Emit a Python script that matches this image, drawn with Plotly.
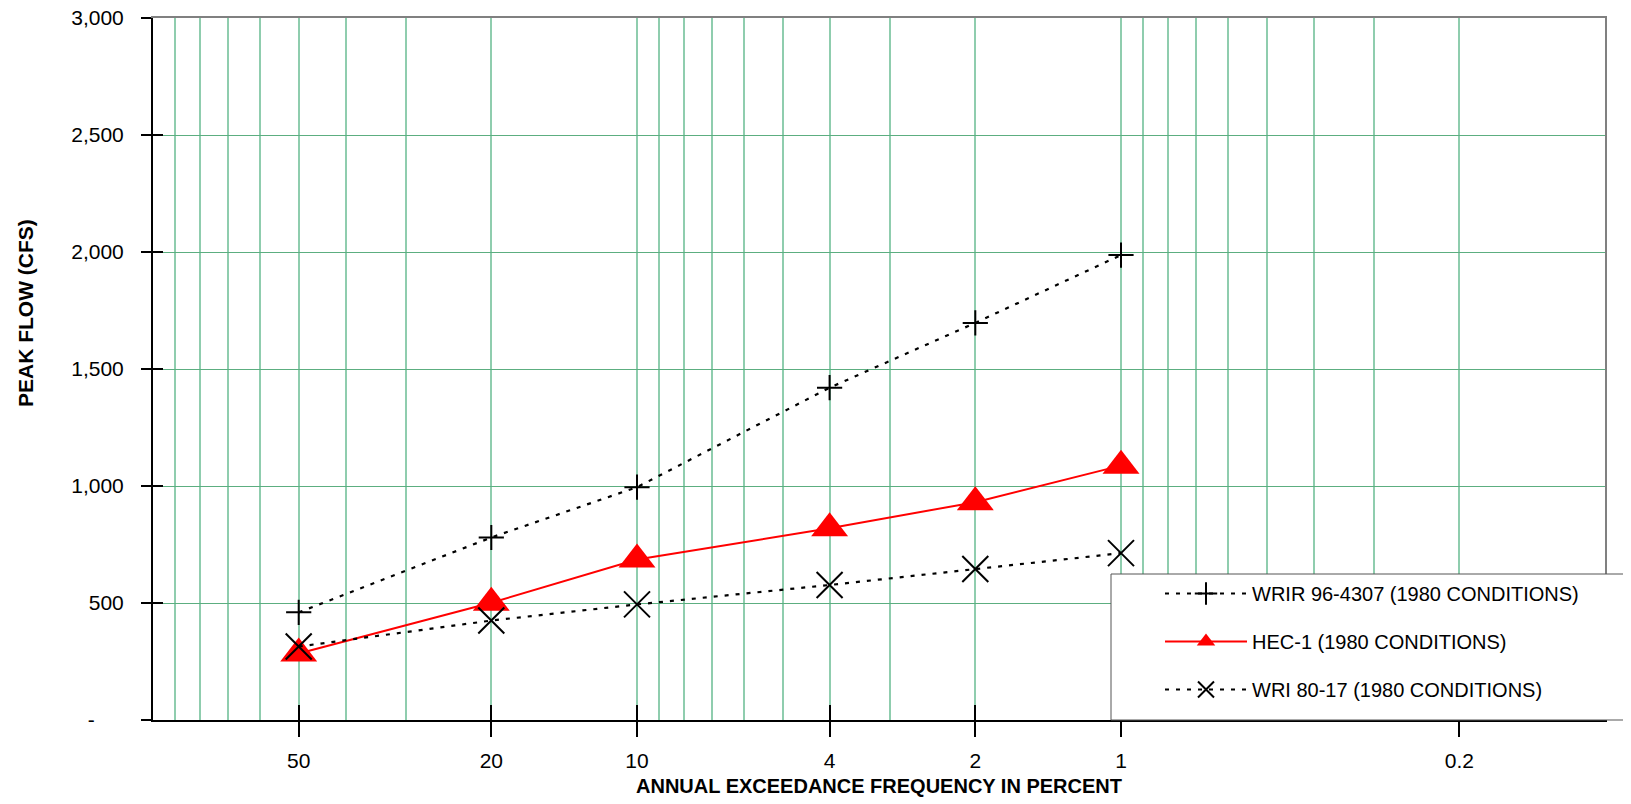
import plotly.graph_objects as go

# ---- data ----
pct = [50, 20, 10, 4, 2, 1]                       # annual exceedance frequency, percent
wrir_96_4307 = [460, 780, 995, 1420, 1697, 1987]  # cfs
hec_1 = [284, 501, 686, 819, 931, 1087]
wri_80_17 = [314, 425, 494, 577, 645, 713]

series_names = [
    "WRIR 96-4307 (1980 CONDITIONS)",
    "HEC-1 (1980 CONDITIONS)",
    "WRI 80-17 (1980 CONDITIONS)",
]

x_label_pct = [50, 20, 10, 4, 2, 1, 0.2]
x_label_text = ["50", "20", "10", "4", "2", "1", "0.2"]
x_minor_pct = [90, 80, 70, 60, 40, 30, 9, 8, 7, 6, 5, 3,
               0.9, 0.8, 0.7, 0.6, 0.5, 0.4, 0.3]

y_ticks = [0, 500, 1000, 1500, 2000, 2500, 3000]
y_tick_text = ["-" + "\u00a0" * 5, "500", "1,000", "1,500", "2,000", "2,500", "3,000"]


def rp(p_list):
    # plotting position: log of recurrence interval (100 / percent)
    return [100.0 / p for p in p_list]


FONT = "Liberation Sans, Arial, sans-serif"
VGRID = "#8fcdae"
HGRID = "#5cae80"

# the page body has an 8px margin; size the figure so the plot lands where the reference has it
W, H = 1623, 796
ML, MR, MT, MB = 145, 26, 10, 84

LEG_X = (1111 - 153) / 1452   # legend left edge (paper)
LEG_Y = (720 - 574) / 702     # legend top edge (paper)
LEG_X1 = 1.1                  # frame runs off the right edge of the picture

fig = go.Figure()

fig.add_trace(go.Scatter(
    x=rp(pct), y=wrir_96_4307, name=series_names[0],
    mode="lines+markers", legendgroup="a",
    line=dict(color="black", width=2.2, dash="4px,7px"),
    marker=dict(symbol="cross-thin-open", size=18, line=dict(color="black", width=2)),
))
fig.add_trace(go.Scatter(
    x=rp(pct), y=hec_1, name=series_names[1],
    mode="lines+markers", legendgroup="b",
    line=dict(color="#ff0000", width=2),
    marker=dict(symbol="triangle-up", size=32, color="#ff0000"),
))
fig.add_trace(go.Scatter(
    x=rp(pct), y=wri_80_17, name=series_names[2],
    mode="lines+markers", legendgroup="c",
    line=dict(color="black", width=2.2, dash="4px,7px"),
    marker=dict(symbol="x-thin-open", size=26, line=dict(color="black", width=2)),
))

# invisible carriers so the overlay axes (crossing ticks, grey frame) get drawn
for xa, ya in (("x2", "y2"), ("x3", "y3")):
    fig.add_trace(go.Scatter(
        x=rp(pct), y=hec_1, xaxis=xa, yaxis=ya, mode="markers",
        marker=dict(opacity=0), showlegend=False, hoverinfo="skip",
    ))

xrange = [0, 3]  # log10 of recurrence interval 1 .. 1000 yr (100 % .. 0.1 %)

# open (three-sided) legend frame, white-filled
frame_path = (f"M {LEG_X1},{LEG_Y} L {LEG_X},{LEG_Y} "
              f"L {LEG_X},0 L {LEG_X1},0")

fig.update_layout(
    width=W, height=H, autosize=False,
    margin=dict(l=ML, r=MR, t=MT, b=MB, pad=0, autoexpand=False),
    paper_bgcolor="white", plot_bgcolor="white",
    font=dict(family=FONT, size=20, color="black"),
    showlegend=True,
    legend=dict(
        x=LEG_X, y=LEG_Y,
        xanchor="left", yanchor="top",
        bgcolor="rgba(0,0,0,0)", bordercolor="rgba(0,0,0,0)", borderwidth=0,
        font=dict(family=FONT, size=20, color="black"),
        tracegroupgap=19, itemwidth=82, indentation=49,
        itemsizing="trace",
    ),
    shapes=[dict(type="path", xref="paper", yref="paper", path=frame_path,
                 fillcolor="white", line=dict(color="#555555", width=1),
                 layer="above")],
    xaxis=dict(
        type="log", range=xrange,
        tickmode="array", tickvals=rp(x_label_pct), ticktext=x_label_text,
        ticks="outside", ticklen=15, tickwidth=2, tickcolor="black",
        ticklabelstandoff=6, ticklabeloverflow="allow",
        showline=True, linecolor="black", linewidth=2,
        showgrid=True, gridcolor=VGRID, gridwidth=1.5,
        minor=dict(tickmode="array", tickvals=rp(x_minor_pct),
                   showgrid=True, gridcolor=VGRID, gridwidth=1.5, ticks=""),
        zeroline=False,
        tickfont=dict(family=FONT, size=21),
    ),
    xaxis2=dict(
        type="log", range=xrange, overlaying="x", anchor="y2", side="bottom",
        tickmode="array", tickvals=rp(x_label_pct), ticktext=[""] * len(x_label_pct),
        ticks="inside", ticklen=15, tickwidth=2, tickcolor="black",
        showline=False, showgrid=False, zeroline=False, showticklabels=False,
    ),
    xaxis3=dict(
        type="log", range=xrange, overlaying="x", anchor="y3", side="top",
        showline=True, linecolor="#808080", linewidth=2,
        ticks="", showgrid=False, zeroline=False, showticklabels=False,
    ),
    yaxis=dict(
        range=[0, 3000],
        tickmode="array", tickvals=y_ticks, ticktext=y_tick_text,
        ticks="outside", ticklen=10, tickwidth=2, tickcolor="black",
        ticklabelstandoff=13, ticklabeloverflow="allow",
        showline=True, linecolor="black", linewidth=2,
        showgrid=True, gridcolor=HGRID, gridwidth=1,
        zeroline=False,
        tickfont=dict(family=FONT, size=21),
    ),
    yaxis2=dict(
        range=[0, 3000], overlaying="y", anchor="x2", side="left",
        tickmode="array", tickvals=y_ticks,
        ticks="inside", ticklen=10, tickwidth=2, tickcolor="black",
        showline=False, showgrid=False, zeroline=False, showticklabels=False,
    ),
    yaxis3=dict(
        range=[0, 3000], overlaying="y", anchor="x3", side="right",
        showline=True, linecolor="#808080", linewidth=2,
        ticks="", showgrid=False, zeroline=False, showticklabels=False,
    ),
    annotations=[
        dict(text="<b>PEAK FLOW (CFS)</b>", textangle=-90,
             xref="paper", yref="paper", x=(25 - 153) / 1452, y=(720 - 313) / 702,
             xanchor="center", yanchor="middle", showarrow=False,
             font=dict(family=FONT, size=21, color="black")),
        dict(text="<b>ANNUAL EXCEEDANCE FREQUENCY IN PERCENT</b>",
             xref="paper", yref="paper", x=0.5, y=(720 - 786) / 702,
             xanchor="center", yanchor="middle", showarrow=False,
             font=dict(family=FONT, size=20, color="black")),
    ],
)

fig.write_html("out.html")
